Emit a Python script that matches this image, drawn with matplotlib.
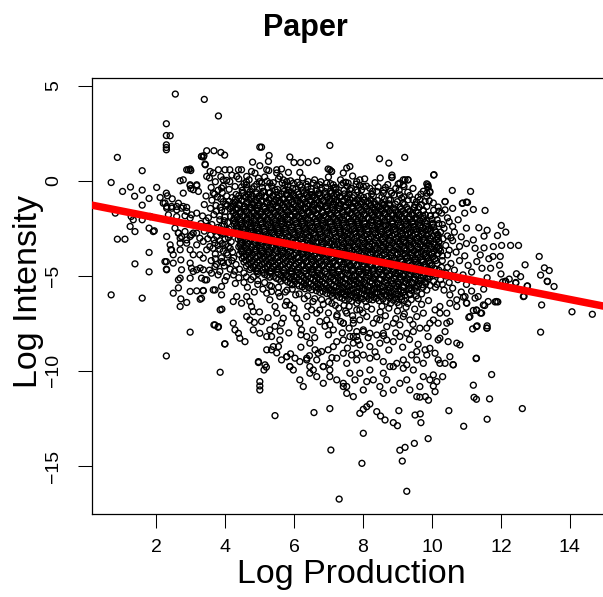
import numpy as np
import matplotlib
matplotlib.use("Agg")
import matplotlib.pyplot as plt

plt.rcParams['font.family'] = ['Liberation Sans', 'DejaVu Sans']

# ---- data ----
title = "Paper"
x_label = "Log Production"
y_label = "Log Intensity"
x_ticks = [2, 4, 6, 8, 10, 12, 14]
y_ticks = [-15, -10, -5, 0, 5]

# fitted line (abline of the regression)
fit_intercept = -1.23
fit_slope = -0.358

# isolated points around the cloud
sparse_pts = [
    (2.56, 4.56), (3.40, 4.28), (3.81, 3.41), (2.30, 3.00), (2.30, 2.38), (2.41, 2.37),
    (2.30, 1.89), (2.30, 1.75), (2.30, 1.63), (0.88, 1.23), (1.60, 0.53), (0.70, -0.09),
    (1.03, -0.56), (1.26, -0.33), (1.38, -0.81), (1.60, -0.49), (1.80, -0.93), (2.02, -0.35),
    (1.60, -1.28), (0.82, -1.70), (1.28, -1.88), (1.34, -2.05), (1.60, -2.05), (1.83, -1.88),
    (1.25, -2.40), (1.39, -2.67), (1.80, -2.49), (1.95, -2.63), (0.88, -3.07), (1.10, -3.07),
    (1.80, -3.77), (1.39, -4.37), (1.80, -4.79), (0.70, -6.00), (1.60, -6.17), (2.30, -9.21),
    (2.99, -7.96), (3.47, 1.58), (3.68, 1.58), (3.88, 1.49), (3.99, 1.35), (3.32, 1.28),
    (3.37, 1.25), (2.89, 0.58), (2.99, 0.62), (3.01, 0.54), (3.43, 0.84), (2.70, 0.00),
    (2.99, -0.26), (3.18, -0.26), (2.79, -0.65), (3.01, -0.41), (2.30, -0.65), (2.33, -0.79),
    (2.47, -0.95), (2.12, -0.88), (2.26, -1.17), (2.31, -1.35), (2.46, -1.44), (2.60, -1.35),
    (2.74, -1.44), (2.89, -1.40), (2.36, -1.79), (2.60, -1.88), (2.84, -1.84), (2.99, -1.96),
    (3.18, -1.70), (2.31, -2.93), (2.65, -2.75), (2.70, -3.02), (2.89, -3.28), (2.99, -2.93),
    (3.08, -2.75), (2.43, -3.63), (2.50, -3.89), (2.70, -3.63), (2.30, -4.25), (2.30, -4.65),
    (2.50, -4.33), (2.72, -4.16), (2.65, -5.21), (2.70, -5.12), (2.99, -5.12), (3.18, -4.68),
    (3.28, -4.59), (2.50, -5.91), (2.99, -5.82), (3.18, -5.79), (3.37, -5.79), (3.71, -5.74),
    (3.90, -5.56), (2.65, -5.63), (2.72, -6.21), (2.70, -6.61), (2.89, -6.40), (3.28, -6.23),
    (3.68, -7.58), (3.80, -7.70), (3.86, -10.07), (3.99, -8.58), (3.91, -6.75), (5.45, -12.35),
    (5.01, -10.56), (5.01, -10.79), (5.01, -11.00), (4.97, -9.56), (5.13, -9.95), (5.20, -9.80),
    (7.07, -14.16), (7.31, -16.74), (6.58, -12.19), (7.04, -11.98), (8.01, -13.28), (7.97, -14.86),
    (9.27, -16.33), (9.14, -14.74), (9.07, -14.17), (9.22, -14.02), (9.49, -13.81), (9.89, -13.56),
    (8.88, -12.72), (9.00, -12.88), (9.68, -12.72), (9.51, -12.32), (9.66, -12.26), (8.64, -12.58),
    (8.51, -12.37), (8.40, -12.14), (8.01, -12.02), (8.11, -11.88), (8.20, -11.74), (9.04, -12.09),
    (10.49, -12.09), (10.92, -12.91), (11.60, -12.54), (12.62, -11.98), (11.67, -11.47),
    (11.29, -11.49), (11.22, -11.39), (11.20, -10.75), (11.73, -10.19), (11.28, -9.35),
    (10.61, -9.67), (10.31, -10.30), (10.14, -10.56), (10.04, -10.79), (10.09, -11.09),
    (9.90, -11.54), (9.81, -11.35), (9.65, -11.38), (13.15, -7.96), (14.06, -6.89), (14.65, -7.02),
    (13.18, -6.53), (12.67, -6.07), (13.54, -5.56), (13.35, -5.30), (12.76, -5.54), (12.43, -5.38),
    (12.14, -5.30), (11.91, -6.37), (11.83, -6.37), (11.53, -6.56), (11.60, -7.63), (11.60, -7.75),
    (11.31, -7.63), (11.18, -7.79), (11.07, -7.18), (11.20, -6.82), (11.30, -6.82), (11.41, -6.96),
    (11.00, -6.42), (10.91, -6.12), (8.48, 1.16), (8.75, 0.93), (9.21, 1.23), (8.84, 0.19),
    (8.84, 0.30), (9.17, 0.05), (9.30, 0.05), (10.05, 0.30), (9.02, -0.17), (9.17, -0.21),
    (9.88, -0.21), (9.88, -0.35), (9.94, -0.61), (10.59, -0.51), (11.12, -0.56), (10.88, -1.19),
    (11.03, -1.14), (11.20, -1.51), (11.54, -1.56), (10.38, -1.10), (10.76, -2.05), (11.00, -2.49),
    (11.36, -2.47), (12.01, -2.35), (12.14, -2.70), (11.90, -2.88), (11.51, -2.91), (11.20, -3.11),
    (11.51, -3.53), (11.78, -3.46), (12.02, -3.40), (12.28, -3.40), (12.51, -3.40), (11.77, -3.98),
    (11.98, -3.98), (11.96, -4.44), (13.11, -3.98), (12.70, -4.42), (13.26, -4.58), (13.40, -4.72),
    (13.15, -4.96), (13.34, -5.28), (12.45, -4.89), (12.57, -5.04), (12.43, -5.35), (12.05, -5.32),
    (12.13, -5.28), (12.24, -5.17), (12.77, -5.53), (12.65, -6.09), (7.04, 1.86), (5.01, 1.77),
    (5.06, 1.77), (3.32, 1.28), (3.39, 1.32), (5.28, 1.33), (5.88, 1.25), (6.00, 0.96),
    (6.19, 0.96), (6.41, 0.96), (6.66, 1.05), (4.80, 0.98), (5.01, 0.79), (5.26, 1.02),
    (3.42, 0.88), (2.94, 0.58), (3.57, 0.49), (3.81, 0.58), (4.00, 0.58), (4.14, 0.58),
    (4.39, 0.58), (4.48, 0.58), (4.77, 0.49), (4.87, 0.40), (5.21, 0.58), (5.27, 0.54),
    (5.50, 0.58), (5.64, 0.62), (5.84, 0.44), (6.17, 0.44), (6.99, 0.62), (7.09, 0.49),
    (3.47, 0.23), (3.66, 0.41), (3.95, 0.05), (4.14, -0.04), (4.34, 0.23), (4.63, 0.23),
    (4.97, 0.14), (2.79, 0.05), (2.99, -0.21), (3.18, -0.21), (3.08, -0.47), (3.23, -0.56),
    (3.66, -0.65), (3.90, -0.38), (4.29, -0.30), (4.63, -0.21), (5.50, 0.41), (5.59, 0.23),
    (5.69, 0.05), (5.74, -0.21), (5.79, -0.04), (5.98, -0.12), (6.17, -0.21), (6.41, -0.04),
    (6.56, -0.12), (6.75, -0.21), (6.95, -0.12), (7.14, -0.21), (5.30, -0.12), (5.06, -0.12),
    (8.84, 0.17), (9.07, -0.12), (9.22, 0.05), (9.31, 0.05), (9.19, -0.30), (10.06, 0.32),
    (9.85, -0.16), (9.89, -0.30), (9.94, -0.56), (9.85, -0.65), (10.38, -1.09), (10.89, -1.17),
    (11.00, -1.12), (7.04, 0.58), (7.09, 0.49), (7.14, -0.38), (7.43, 0.41), (7.53, 0.67),
    (7.62, 0.75), (7.43, -0.12), (7.57, -0.12), (7.82, -0.04), (7.91, 0.05), (8.01, -0.30),
    (7.62, -0.47), (7.82, -0.47), (8.40, -0.56), (8.59, -0.65), (8.83, -0.65), (9.07, -0.74),
    (9.12, -0.91), (9.31, -1.00), (9.51, -1.26), (9.65, -1.00), (9.80, -1.09), (9.85, -0.82),
    (10.04, -1.17), (10.18, -1.38), (10.38, -1.53), (10.28, -1.70),
    # lower part of the cloud
    (3.47, -5.21), (3.37, -5.77), (3.32, -6.18), (3.66, -5.74), (3.90, -6.00), (3.86, -6.79),
    (3.71, -7.58), (3.81, -7.67), (4.00, -8.58), (4.24, -7.49), (4.29, -7.84), (4.39, -8.02),
    (4.43, -8.28), (4.58, -8.46), (4.24, -6.35), (4.34, -6.09), (4.48, -6.44), (4.63, -6.09),
    (4.72, -6.35), (4.77, -6.61), (4.82, -6.88), (4.63, -7.14), (4.72, -7.32), (4.82, -7.84),
    (5.06, -7.40), (5.01, -8.02), (5.21, -8.19), (5.30, -7.84), (5.35, -8.19), (5.40, -8.72),
    (5.21, -8.89), (5.35, -8.89), (5.55, -8.72), (5.59, -8.37), (5.64, -7.49), (5.69, -7.23),
    (5.50, -6.96), (5.45, -6.61), (5.30, -6.26), (5.21, -5.91), (5.35, -5.82), (5.59, -6.09),
    (5.79, -6.35), (5.88, -6.53), (5.98, -6.96), (6.08, -7.23), (6.17, -7.49), (6.22, -7.84),
    (6.37, -8.19), (6.46, -8.54), (6.61, -8.89), (6.70, -9.07), (6.80, -8.98), (6.99, -8.89),
    (7.14, -8.72), (7.24, -8.46), (7.43, -8.37), (7.62, -8.19), (7.72, -8.54), (7.82, -7.93),
    (6.37, -7.14), (6.51, -6.79), (6.66, -6.96), (6.75, -7.40), (6.95, -7.32), (7.04, -7.58),
    (7.14, -7.84), (7.24, -7.14), (7.43, -7.49), (7.53, -6.96), (7.72, -7.32), (7.82, -6.79),
    (4.97, -9.51), (5.16, -9.68), (5.64, -9.42), (5.79, -9.25), (5.88, -9.77), (6.03, -9.33),
    (6.17, -9.51), (6.37, -9.33), (6.46, -9.77), (6.66, -9.42), (6.85, -9.77), (7.04, -9.60),
    (7.24, -9.33), (7.43, -9.07), (7.53, -9.60), (7.67, -9.16),
    (10.52, -6.00), (10.72, -6.26), (10.52, -6.44), (10.23, -6.61), (10.09, -6.79), (10.23, -6.96),
    (10.43, -6.96), (10.72, -6.61), (10.96, -6.09), (11.01, -6.44), (11.25, -6.17), (11.34, -6.09),
    (11.49, -6.53), (11.63, -6.35), (11.87, -6.35), (11.10, -7.14), (11.29, -6.79), (11.44, -6.96),
    (11.29, -7.67), (11.59, -7.75), (10.04, -7.32), (10.18, -7.49), (10.43, -7.49), (10.52, -7.40),
    (10.38, -7.93), (9.94, -7.49), (9.85, -7.75), (9.89, -8.19), (10.23, -8.28), (10.18, -8.37),
    (10.47, -8.46), (10.72, -8.54), (10.81, -8.63), (9.94, -8.81), (9.80, -8.89), (9.56, -8.98),
    (9.41, -9.16), (9.85, -9.16), (10.09, -9.07), (10.18, -9.42), (10.38, -9.60), (10.62, -9.68),
    (10.52, -9.25), (9.56, -9.42), (9.17, -9.42), (9.27, -9.68), (8.98, -9.60), (8.78, -9.77),
    (8.59, -9.51), (8.40, -9.25), (8.20, -9.33), (8.01, -9.16), (7.82, -9.07), (7.91, -8.63),
    (8.20, -8.72), (8.49, -8.54), (8.69, -8.37), (8.88, -8.46), (9.07, -8.19), (9.27, -8.02),
    (9.46, -7.93), (9.65, -7.75), (8.59, -8.02), (8.40, -8.11), (8.20, -8.02), (8.01, -7.93),
    (7.82, -8.19), (7.72, -7.49), (7.91, -7.32), (8.11, -7.14), (8.30, -7.49), (8.49, -7.32),
    (8.69, -7.67), (8.88, -7.49), (9.07, -7.58), (9.17, -7.14), (9.36, -7.32), (9.56, -7.14),
    (9.75, -6.96), (7.91, -6.79), (8.11, -6.61), (7.82, -6.44), (8.01, -7.84), (11.29, -9.33),
    (7.43, -7.49), (7.72, -8.19), (7.82, -9.42), (7.77, -10.47), (7.53, -10.82), (7.72, -11.35),
    (8.01, -11.00), (8.11, -10.56), (8.30, -10.47), (8.49, -10.82), (8.59, -11.18), (8.69, -10.47),
    (8.88, -11.00), (9.07, -10.65), (9.27, -10.47), (9.36, -11.00), (9.56, -11.35), (9.65, -10.82),
    (9.75, -10.30), (9.94, -10.47), (10.04, -10.21), (10.23, -9.60), (9.75, -9.60), (9.46, -9.95),
    (9.17, -9.86), (8.88, -9.77), (8.59, -10.12), (8.20, -9.95), (7.91, -10.12), (7.62, -10.12),
    (7.43, -10.65), (7.91, -12.23), (6.27, -10.82), (6.17, -10.47), (5.98, -9.95), (5.88, -9.77),
    (6.46, -10.12), (6.66, -10.30), (6.85, -10.65), (7.04, -10.30), (7.24, -10.47), (7.43, -10.82),
    (7.53, -11.18), (6.37, -9.42), (6.56, -9.95), (6.85, -9.77), (7.04, -9.95), (5.79, -9.25),
    # left side of the cloud
    (1.83, -1.88), (1.92, -2.67), (2.21, -1.18), (2.31, -1.44), (2.45, -1.35), (2.60, -1.53),
    (2.65, -1.18), (2.79, -1.35), (2.89, -1.61), (3.03, -1.79), (2.55, -2.49), (2.65, -2.75),
    (2.74, -2.93), (2.84, -2.67), (2.89, -3.11), (2.70, -3.28), (3.03, -2.84), (3.18, -2.75),
    (3.27, -3.02), (3.37, -3.19), (3.18, -3.37), (2.99, -3.63), (3.08, -3.89), (3.27, -3.89),
    (3.37, -4.07), (3.47, -3.63), (3.56, -3.46), (3.71, -3.28), (3.76, -2.93), (3.85, -2.67),
    (3.66, -2.58), (3.52, -2.40), (2.41, -3.37), (2.45, -3.63), (2.26, -4.25), (2.31, -4.68),
    (2.74, -4.68), (2.99, -4.33), (3.03, -4.60), (3.08, -4.77), (3.37, -4.68), (3.32, -5.12),
    (3.42, -5.21), (3.61, -4.86), (3.71, -4.51), (3.85, -4.77), (3.90, -4.25), (4.05, -5.04),
]

# points in the busy band around the dark core
halo_pts = [
    (3.55, 0.15), (3.72, -0.05), (3.88, 0.22), (4.05, 0.02), (4.20, 0.30), (3.60, -0.35),
    (3.80, -0.50), (3.95, -0.28), (4.12, -0.45), (3.45, -0.80), (3.62, -1.02), (3.78, -0.85),
    (3.95, -1.10), (3.40, -1.25), (3.58, -1.45), (3.74, -1.30), (3.90, -1.55), (3.35, -1.85),
    (3.52, -1.95), (3.68, -1.78), (3.85, -2.05), (4.00, -1.90), (3.30, -2.25), (3.45, -2.10),
    (3.62, -2.30), (3.80, -2.45), (3.98, -2.30), (4.12, -2.55), (3.40, -2.65), (3.58, -2.85),
    (3.95, -2.80), (4.10, -3.00), (3.50, -3.05), (3.85, -3.15), (4.02, -3.35), (3.65, -3.55),
    (3.80, -3.40), (3.95, -3.70), (4.15, -3.55), (3.72, -3.85), (3.90, -4.05), (4.08, -3.90),
    (4.20, -4.20), (3.60, -4.20), (3.75, -4.40), (3.98, -4.48), (4.15, -4.65), (3.55, -4.70),
    (3.80, -4.95), (4.00, -5.25), (4.25, -4.95), (4.40, -5.10), (4.30, -5.40), (4.55, -5.35),
    (4.75, -5.20), (4.65, -5.60), (4.95, -5.45), (5.10, -5.70), (4.85, -5.85), (5.35, -5.55),
    (5.55, -5.90), (5.80, -5.75), (6.05, -6.00), (6.30, -6.20), (6.55, -6.35), (6.85, -6.50),
    (7.10, -6.45), (7.30, -6.70), (7.60, -6.60),
    (4.40, 0.10), (4.55, -0.15), (4.70, 0.05), (4.85, -0.30), (5.00, -0.05), (5.15, 0.20),
    (5.25, -0.35), (5.40, -0.10), (5.55, 0.10), (5.70, -0.40), (5.90, 0.00), (6.05, -0.45),
    (6.25, 0.15), (6.40, -0.30), (6.60, 0.05), (6.80, -0.40), (7.00, 0.20), (7.20, -0.35),
    (7.35, 0.05), (7.55, -0.30), (7.70, 0.25), (7.90, -0.25), (8.05, 0.10), (8.20, -0.40),
    (8.35, -0.10), (8.50, 0.15), (8.65, -0.35), (8.80, -0.55), (8.95, -0.40), (9.30, -0.60),
    (9.45, -0.40), (9.60, -0.85), (9.75, -0.55), (9.45, -1.00), (9.70, -1.25), (4.50, -0.50),
    (4.65, -0.42), (5.10, -0.55), (5.45, -0.48), (5.85, -0.50), (6.25, -0.52), (6.65, -0.48),
    (7.05, -0.55), (7.45, -0.50), (7.85, -0.58), (8.25, -0.70), (8.55, -0.85), (8.75, -1.00),
    (9.00, -1.10), (9.20, -1.25), (8.60, -1.25), (9.50, -1.40), (9.75, -1.55), (9.95, -1.85),
    (10.15, -2.05), (10.30, -2.30), (10.45, -1.95), (10.60, -2.40), (10.25, -2.70), (10.45, -2.90),
    (10.65, -2.70), (10.85, -2.95), (10.20, -3.20), (10.40, -3.40), (10.60, -3.15), (10.80, -3.45),
    (11.00, -3.30), (10.25, -3.70), (10.45, -3.90), (10.70, -3.75), (10.95, -3.95), (10.30, -4.20),
    (10.55, -4.35), (10.80, -4.20), (11.05, -4.45), (11.30, -4.25), (10.20, -4.70), (10.40, -4.85),
    (10.65, -4.70), (10.90, -4.95), (11.15, -4.80), (11.45, -4.60), (10.25, -5.20), (10.50, -5.35),
    (10.75, -5.20), (11.00, -5.45), (11.25, -5.30), (11.60, -5.10), (10.10, -5.60), (10.35, -5.75),
    (10.60, -5.65), (10.85, -5.85), (11.15, -5.80), (11.50, -5.70), (11.80, -5.45), (12.00, -4.90),
    (11.70, -4.60), (11.40, -3.90), (11.65, -4.10), (11.25, -3.55), (11.60, -2.60), (10.95, -1.70),
    (10.60, -1.45), (10.20, -1.60),
    (5.75, -6.55), (6.00, -6.70), (6.40, -6.60), (6.75, -6.80), (7.00, -6.95), (7.25, -7.05),
    (7.50, -6.85), (7.70, -7.10), (8.00, -6.95), (8.25, -6.75), (8.50, -6.90), (8.75, -6.70),
    (9.00, -6.85), (9.25, -6.65), (9.50, -6.75), (9.70, -6.50), (9.90, -6.30), (9.60, -6.20),
    (9.30, -6.45), (9.05, -6.55), (8.80, -6.45), (8.55, -6.60), (8.40, -7.25), (8.65, -7.10),
    (8.95, -7.25), (9.20, -7.00), (9.45, -7.55), (7.60, -7.75), (7.35, -7.40), (6.90, -7.65),
    (6.55, -7.85), (6.20, -8.10), (5.85, -8.00), (5.60, -7.90), (5.25, -7.20), (5.00, -6.90),
    (4.85, -7.45), (5.45, -7.65), (6.60, -8.25), (7.00, -8.10), (7.40, -8.00), (7.85, -8.40),
    (8.15, -8.25), (8.60, -8.15), (8.95, -8.00), (9.35, -8.35), (9.60, -8.60), (9.15, -8.75),
    (8.75, -8.90), (8.35, -9.00), (7.55, -8.80), (7.10, -9.30), (6.45, -9.20), (6.20, -8.75),
    (5.90, -9.10), (5.50, -9.05),
]

# points along the edge of the dark core
rim_pts = [
    (4.48, -0.32), (4.62, -0.05), (4.78, -0.42), (4.92, -0.18), (5.08, -0.35), (5.22, -0.02),
    (5.36, -0.28), (5.52, -0.45), (5.66, -0.12), (5.82, -0.30), (5.96, -0.40), (6.10, -0.08),
    (6.22, -0.33), (6.36, -0.18), (6.50, -0.42), (6.66, -0.25), (6.78, -0.05), (6.92, -0.35),
    (7.06, -0.15), (7.22, -0.45), (7.38, -0.22), (7.50, -0.08), (7.66, -0.40), (7.80, -0.18),
    (7.96, -0.48), (8.10, -0.28), (8.28, -0.55), (8.44, -0.32), (8.60, -0.50), (8.72, -0.20),
    (8.90, -0.75), (9.05, -0.50), (9.18, -0.85), (9.35, -0.78), (9.55, -1.10), (9.68, -0.70),
    (9.85, -1.35), (9.92, -1.05), (10.05, -1.55), (10.10, -1.80),
    (3.92, -0.62), (4.05, -0.80), (3.88, -0.95), (4.02, -1.22), (3.86, -1.40), (4.00, -1.62),
    (3.84, -1.85), (3.98, -2.10), (4.08, -2.20), (3.90, -2.38), (4.05, -2.60), (3.88, -2.75),
    (4.15, -2.85), (4.00, -3.05), (4.18, -3.20), (3.92, -3.30), (4.10, -3.45), (4.22, -3.75),
    (4.05, -3.80), (4.25, -4.05), (4.10, -4.30), (4.32, -4.40), (4.42, -4.65), (4.28, -4.75),
    (4.55, -4.85), (4.62, -5.05), (4.82, -5.05), (4.95, -5.25), (5.15, -5.35), (5.30, -5.50),
    (5.55, -5.60), (5.75, -5.85), (5.95, -5.70), (6.15, -5.95), (6.40, -6.05), (6.60, -6.20),
    (6.80, -6.25), (7.00, -6.35), (7.20, -6.55), (7.45, -6.55), (3.70, -0.70), (3.75, -1.60),
    (3.70, -2.60), (3.68, -3.10), (3.85, -3.60), (3.72, -4.10), (3.95, -4.30),
    (10.20, -2.25), (10.35, -2.50), (10.18, -2.85), (10.32, -3.05), (10.22, -3.55), (10.30, -3.95),
    (10.15, -4.35), (10.28, -4.55), (10.12, -4.95), (10.05, -5.30), (9.95, -5.50), (10.15, -5.45),
    (9.85, -5.75), (9.70, -5.95), (9.55, -6.05), (9.40, -6.25), (9.20, -6.30), (9.00, -6.40),
    (10.50, -2.15), (10.55, -3.00), (10.50, -3.65), (10.45, -4.55), (10.40, -5.00), (10.30, -5.45),
]

# the dark core, written row by row (x values, then matching y values)
core_x = [
    4.32, 4.51, 4.68, 4.90, 5.06, 5.27, 5.41, 5.63, 5.80, 5.99, 6.14, 6.36, 6.52, 6.71, 6.90, 7.07, 7.25, 7.46, 7.60,
    4.21, 4.40, 4.59, 4.77, 4.98, 5.15, 5.33, 5.52, 5.71, 5.88, 6.06, 6.25, 6.43, 6.60, 6.80, 6.97, 7.16, 7.34, 7.53, 7.70, 7.88, 8.02,
    4.12, 4.30, 4.49, 4.66, 4.86, 5.04, 5.22, 5.41, 5.58, 5.77, 5.95, 6.13, 6.32, 6.49, 6.68, 6.86, 7.05, 7.22, 7.41, 7.59, 7.77, 7.96, 8.14, 8.33,
    4.06, 4.23, 4.41, 4.58, 4.77, 4.95, 5.13, 5.31, 5.49, 5.67, 5.86, 6.04, 6.22, 6.40, 6.58, 6.77, 6.95, 7.13, 7.31, 7.50, 7.68, 7.86, 8.05, 8.23, 8.41, 8.60, 8.78,
    4.15, 4.33, 4.55, 4.74, 4.93, 5.16, 5.34, 5.53, 5.75, 5.94, 6.13, 6.35, 6.54, 6.72, 6.95, 7.13, 7.33, 7.54, 7.72, 7.93, 8.12, 8.34, 8.52, 8.71, 8.93, 9.11, 9.30,
    4.24, 4.44, 4.63, 4.84, 5.03, 5.25, 5.44, 5.63, 5.85, 6.04, 6.23, 6.45, 6.63, 6.84, 7.03, 7.24, 7.43, 7.63, 7.83, 8.03, 8.24, 8.43, 8.62, 8.83, 9.02, 9.22, 9.42, 9.60,
    4.16, 4.35, 4.54, 4.75, 4.94, 5.14, 5.35, 5.54, 5.73, 5.95, 6.14, 6.33, 6.54, 6.74, 6.93, 7.14, 7.33, 7.55, 7.74, 7.93, 8.14, 8.33, 8.54, 8.73, 8.94, 9.13, 9.34, 9.53, 9.74,
    4.25, 4.45, 4.64, 4.85, 5.04, 5.24, 5.45, 5.64, 5.84, 6.05, 6.24, 6.43, 6.65, 6.84, 7.04, 7.25, 7.44, 7.64, 7.84, 8.04, 8.25, 8.44, 8.63, 8.85, 9.04, 9.24, 9.44, 9.65, 9.85,
    4.27, 4.46, 4.66, 4.86, 5.05, 5.26, 5.46, 5.65, 5.86, 6.06, 6.25, 6.46, 6.66, 6.85, 7.06, 7.26, 7.45, 7.66, 7.86, 8.05, 8.26, 8.46, 8.65, 8.86, 9.06, 9.25, 9.46, 9.66, 9.85, 10.02,
    4.33, 4.53, 4.74, 4.93, 5.13, 5.34, 5.53, 5.73, 5.94, 6.13, 6.33, 6.54, 6.73, 6.93, 7.14, 7.33, 7.53, 7.74, 7.93, 8.13, 8.34, 8.53, 8.73, 8.94, 9.13, 9.33, 9.54, 9.73, 9.93,
    4.36, 4.55, 4.76, 4.95, 5.16, 5.36, 5.55, 5.76, 5.96, 6.15, 6.36, 6.56, 6.75, 6.96, 7.16, 7.35, 7.56, 7.76, 7.95, 8.16, 8.36, 8.55, 8.76, 8.96, 9.15, 9.36, 9.56, 9.75, 9.96, 10.12,
    4.43, 4.64, 4.83, 5.04, 5.24, 5.43, 5.64, 5.84, 6.03, 6.24, 6.44, 6.63, 6.84, 7.04, 7.23, 7.44, 7.64, 7.83, 8.04, 8.24, 8.43, 8.64, 8.84, 9.03, 9.24, 9.44, 9.63, 9.84, 10.03,
    4.38, 4.58, 4.76, 4.98, 5.17, 5.36, 5.58, 5.77, 5.96, 6.18, 6.37, 6.56, 6.78, 6.97, 7.16, 7.38, 7.57, 7.76, 7.98, 8.17, 8.36, 8.58, 8.77, 8.96, 9.18, 9.37, 9.56, 9.78, 9.97, 10.13,
    4.45, 4.66, 4.86, 5.05, 5.26, 5.46, 5.65, 5.86, 6.06, 6.25, 6.46, 6.66, 6.85, 7.06, 7.26, 7.45, 7.66, 7.86, 8.05, 8.26, 8.46, 8.65, 8.86, 9.06, 9.25, 9.46, 9.66, 9.85, 10.05,
    4.40, 4.60, 4.78, 5.00, 5.19, 5.38, 5.60, 5.79, 5.98, 6.20, 6.39, 6.58, 6.80, 6.99, 7.18, 7.40, 7.59, 7.78, 8.00, 8.19, 8.38, 8.60, 8.79, 8.98, 9.20, 9.39, 9.58, 9.80, 9.99, 10.14,
    4.47, 4.68, 4.88, 5.07, 5.28, 5.48, 5.67, 5.88, 6.08, 6.27, 6.48, 6.68, 6.87, 7.08, 7.28, 7.47, 7.68, 7.88, 8.07, 8.28, 8.48, 8.67, 8.88, 9.08, 9.27, 9.48, 9.68, 9.87, 10.06,
    4.42, 4.62, 4.80, 5.02, 5.21, 5.40, 5.62, 5.81, 6.00, 6.22, 6.41, 6.60, 6.82, 7.01, 7.20, 7.42, 7.61, 7.80, 8.02, 8.21, 8.40, 8.62, 8.81, 9.00, 9.22, 9.41, 9.60, 9.82, 10.01,
    4.50, 4.70, 4.90, 5.09, 5.30, 5.50, 5.69, 5.90, 6.10, 6.29, 6.50, 6.70, 6.89, 7.10, 7.30, 7.49, 7.70, 7.90, 8.09, 8.30, 8.50, 8.69, 8.90, 9.10, 9.29, 9.50, 9.70, 9.89, 10.08,
    4.55, 4.74, 4.94, 5.14, 5.33, 5.54, 5.74, 5.93, 6.14, 6.34, 6.53, 6.74, 6.94, 7.13, 7.34, 7.54, 7.73, 7.94, 8.14, 8.33, 8.54, 8.74, 8.93, 9.14, 9.34, 9.53, 9.74, 9.94,
    4.62, 4.82, 5.01, 5.22, 5.42, 5.61, 5.82, 6.02, 6.21, 6.42, 6.62, 6.81, 7.02, 7.22, 7.41, 7.62, 7.82, 8.01, 8.22, 8.42, 8.61, 8.82, 9.02, 9.21, 9.42, 9.62, 9.81, 10.00,
    4.72, 4.91, 5.11, 5.31, 5.50, 5.71, 5.91, 6.10, 6.31, 6.51, 6.70, 6.91, 7.11, 7.30, 7.51, 7.71, 7.90, 8.11, 8.31, 8.50, 8.71, 8.91, 9.10, 9.31, 9.51, 9.70, 9.91,
    4.95, 5.15, 5.34, 5.55, 5.75, 5.94, 6.15, 6.35, 6.54, 6.75, 6.95, 7.14, 7.35, 7.55, 7.74, 7.95, 8.15, 8.34, 8.55, 8.75, 8.94, 9.15, 9.35, 9.54, 9.75, 9.95,
    5.30, 5.49, 5.69, 5.89, 6.08, 6.29, 6.49, 6.68, 6.89, 7.09, 7.28, 7.49, 7.69, 7.88, 8.09, 8.29, 8.48, 8.69, 8.89, 9.08, 9.29, 9.49, 9.68, 9.88,
    5.62, 5.82, 6.01, 6.22, 6.42, 6.61, 6.82, 7.02, 7.21, 7.42, 7.62, 7.81, 8.02, 8.22, 8.41, 8.62, 8.82, 9.01, 9.22, 9.42, 9.61, 9.80,
    5.95, 6.15, 6.34, 6.55, 6.75, 6.94, 7.15, 7.35, 7.54, 7.75, 7.95, 8.14, 8.35, 8.55, 8.74, 8.95, 9.15, 9.34, 9.55, 9.72,
    6.32, 6.52, 6.71, 6.92, 7.12, 7.31, 7.52, 7.72, 7.91, 8.12, 8.32, 8.51, 8.72, 8.92, 9.11, 9.32, 9.52,
    6.75, 6.95, 7.14, 7.35, 7.55, 7.74, 7.95, 8.15, 8.34, 8.55, 8.75, 8.94, 9.15, 9.35,
    7.12, 7.32, 7.51, 7.72, 7.92, 8.11, 8.32, 8.52, 8.71, 8.92, 9.12,
    7.48, 7.68, 7.87, 8.08, 8.28, 8.47, 8.68, 8.88,
]
core_y = [
    -0.72, -0.66, -0.75, -0.69, -0.73, -0.65, -0.77, -0.70, -0.68, -0.74, -0.71, -0.66, -0.76, -0.70, -0.73, -0.67, -0.74, -0.69, -0.72,
    -0.88, -0.93, -0.86, -0.95, -0.90, -0.84, -0.92, -0.89, -0.96, -0.87, -0.91, -0.94, -0.85, -0.90, -0.93, -0.88, -0.95, -0.86, -0.91, -0.89, -0.94, -0.87,
    -1.08, -1.13, -1.05, -1.11, -1.15, -1.07, -1.12, -1.09, -1.04, -1.14, -1.10, -1.06, -1.13, -1.08, -1.16, -1.10, -1.05, -1.12, -1.09, -1.14, -1.06, -1.11, -1.08, -1.13,
    -1.27, -1.33, -1.29, -1.35, -1.26, -1.31, -1.34, -1.28, -1.32, -1.25, -1.30, -1.36, -1.29, -1.33, -1.27, -1.31, -1.35, -1.28, -1.30, -1.26, -1.34, -1.29, -1.32, -1.27, -1.35, -1.30, -1.28,
    -1.47, -1.53, -1.50, -1.44, -1.55, -1.49, -1.52, -1.46, -1.54, -1.48, -1.51, -1.45, -1.56, -1.50, -1.47, -1.53, -1.49, -1.55, -1.46, -1.52, -1.48, -1.54, -1.50, -1.45, -1.53, -1.49, -1.51,
    -1.68, -1.73, -1.66, -1.71, -1.75, -1.67, -1.72, -1.69, -1.64, -1.74, -1.70, -1.66, -1.73, -1.68, -1.76, -1.70, -1.65, -1.72, -1.69, -1.74, -1.66, -1.71, -1.68, -1.73, -1.65, -1.70, -1.74, -1.67,
    -1.87, -1.93, -1.89, -1.95, -1.86, -1.91, -1.94, -1.88, -1.92, -1.85, -1.90, -1.96, -1.89, -1.93, -1.87, -1.91, -1.95, -1.88, -1.90, -1.86, -1.94, -1.89, -1.92, -1.87, -1.95, -1.90, -1.88, -1.93, -1.86,
    -2.08, -2.13, -2.06, -2.11, -2.15, -2.07, -2.12, -2.09, -2.04, -2.14, -2.10, -2.06, -2.13, -2.08, -2.16, -2.10, -2.05, -2.12, -2.09, -2.14, -2.06, -2.11, -2.08, -2.13, -2.05, -2.10, -2.14, -2.07, -2.11,
    -2.27, -2.33, -2.29, -2.35, -2.26, -2.31, -2.34, -2.28, -2.32, -2.25, -2.30, -2.36, -2.29, -2.33, -2.27, -2.31, -2.35, -2.28, -2.30, -2.26, -2.34, -2.29, -2.32, -2.27, -2.35, -2.30, -2.28, -2.33, -2.26, -2.31,
    -2.48, -2.53, -2.46, -2.51, -2.55, -2.47, -2.52, -2.49, -2.44, -2.54, -2.50, -2.46, -2.53, -2.48, -2.56, -2.50, -2.45, -2.52, -2.49, -2.54, -2.46, -2.51, -2.48, -2.53, -2.45, -2.50, -2.54, -2.47, -2.51,
    -2.67, -2.73, -2.69, -2.75, -2.66, -2.71, -2.74, -2.68, -2.72, -2.65, -2.70, -2.76, -2.69, -2.73, -2.67, -2.71, -2.75, -2.68, -2.70, -2.66, -2.74, -2.69, -2.72, -2.67, -2.75, -2.70, -2.68, -2.73, -2.66, -2.71,
    -2.88, -2.93, -2.86, -2.91, -2.95, -2.87, -2.92, -2.89, -2.84, -2.94, -2.90, -2.86, -2.93, -2.88, -2.96, -2.90, -2.85, -2.92, -2.89, -2.94, -2.86, -2.91, -2.88, -2.93, -2.85, -2.90, -2.94, -2.87, -2.91,
    -3.07, -3.13, -3.09, -3.15, -3.06, -3.11, -3.14, -3.08, -3.12, -3.05, -3.10, -3.16, -3.09, -3.13, -3.07, -3.11, -3.15, -3.08, -3.10, -3.06, -3.14, -3.09, -3.12, -3.07, -3.15, -3.10, -3.08, -3.13, -3.06, -3.11,
    -3.28, -3.33, -3.26, -3.31, -3.35, -3.27, -3.32, -3.29, -3.24, -3.34, -3.30, -3.26, -3.33, -3.28, -3.36, -3.30, -3.25, -3.32, -3.29, -3.34, -3.26, -3.31, -3.28, -3.33, -3.25, -3.30, -3.34, -3.27, -3.31,
    -3.47, -3.53, -3.49, -3.55, -3.46, -3.51, -3.54, -3.48, -3.52, -3.45, -3.50, -3.56, -3.49, -3.53, -3.47, -3.51, -3.55, -3.48, -3.50, -3.46, -3.54, -3.49, -3.52, -3.47, -3.55, -3.50, -3.48, -3.53, -3.46, -3.51,
    -3.68, -3.73, -3.66, -3.71, -3.75, -3.67, -3.72, -3.69, -3.64, -3.74, -3.70, -3.66, -3.73, -3.68, -3.76, -3.70, -3.65, -3.72, -3.69, -3.74, -3.66, -3.71, -3.68, -3.73, -3.65, -3.70, -3.74, -3.67, -3.71,
    -3.87, -3.93, -3.89, -3.95, -3.86, -3.91, -3.94, -3.88, -3.92, -3.85, -3.90, -3.96, -3.89, -3.93, -3.87, -3.91, -3.95, -3.88, -3.90, -3.86, -3.94, -3.89, -3.92, -3.87, -3.95, -3.90, -3.88, -3.93, -3.86,
    -4.08, -4.13, -4.06, -4.11, -4.15, -4.07, -4.12, -4.09, -4.04, -4.14, -4.10, -4.06, -4.13, -4.08, -4.16, -4.10, -4.05, -4.12, -4.09, -4.14, -4.06, -4.11, -4.08, -4.13, -4.05, -4.10, -4.14, -4.07, -4.11,
    -4.27, -4.33, -4.29, -4.35, -4.26, -4.31, -4.34, -4.28, -4.32, -4.25, -4.30, -4.36, -4.29, -4.33, -4.27, -4.31, -4.35, -4.28, -4.30, -4.26, -4.34, -4.29, -4.32, -4.27, -4.35, -4.30, -4.28, -4.33,
    -4.48, -4.53, -4.46, -4.51, -4.55, -4.47, -4.52, -4.49, -4.44, -4.54, -4.50, -4.46, -4.53, -4.48, -4.56, -4.50, -4.45, -4.52, -4.49, -4.54, -4.46, -4.51, -4.48, -4.53, -4.45, -4.50, -4.54, -4.47,
    -4.67, -4.73, -4.69, -4.75, -4.66, -4.71, -4.74, -4.68, -4.72, -4.65, -4.70, -4.76, -4.69, -4.73, -4.67, -4.71, -4.75, -4.68, -4.70, -4.66, -4.74, -4.69, -4.72, -4.67, -4.75, -4.70, -4.68,
    -4.88, -4.93, -4.86, -4.91, -4.95, -4.87, -4.92, -4.89, -4.84, -4.94, -4.90, -4.86, -4.93, -4.88, -4.96, -4.90, -4.85, -4.92, -4.89, -4.94, -4.86, -4.91, -4.88, -4.93, -4.85, -4.90,
    -5.07, -5.13, -5.09, -5.15, -5.06, -5.11, -5.14, -5.08, -5.12, -5.05, -5.10, -5.16, -5.09, -5.13, -5.07, -5.11, -5.15, -5.08, -5.10, -5.06, -5.14, -5.09, -5.12, -5.07,
    -5.28, -5.33, -5.26, -5.31, -5.35, -5.27, -5.32, -5.29, -5.24, -5.34, -5.30, -5.26, -5.33, -5.28, -5.36, -5.30, -5.25, -5.32, -5.29, -5.34, -5.26, -5.31,
    -5.47, -5.53, -5.49, -5.55, -5.46, -5.51, -5.54, -5.48, -5.52, -5.45, -5.50, -5.56, -5.49, -5.53, -5.47, -5.51, -5.55, -5.48, -5.50, -5.46,
    -5.68, -5.73, -5.66, -5.71, -5.75, -5.67, -5.72, -5.69, -5.64, -5.74, -5.70, -5.66, -5.73, -5.68, -5.76, -5.70, -5.65,
    -5.87, -5.93, -5.89, -5.95, -5.86, -5.91, -5.94, -5.88, -5.92, -5.85, -5.90, -5.96, -5.89, -5.93,
    -6.08, -6.13, -6.06, -6.11, -6.15, -6.07, -6.12, -6.09, -6.04, -6.14, -6.10,
    -6.27, -6.33, -6.29, -6.35, -6.26, -6.31, -6.34, -6.28,
]

# second layer of the core, between the rows above
core2_x = [
    4.72, 4.91, 5.12, 5.31, 5.50, 5.71, 5.92, 6.11, 6.30, 6.51, 6.72, 6.91, 7.10, 7.29,
    4.40, 4.60, 4.79, 4.98, 5.19, 5.38, 5.57, 5.78, 5.97, 6.16, 6.37, 6.56, 6.75, 6.96, 7.15, 7.34, 7.55, 7.74, 7.93, 8.14, 8.30,
    4.30, 4.49, 4.68, 4.89, 5.08, 5.27, 5.48, 5.67, 5.86, 6.07, 6.26, 6.45, 6.66, 6.85, 7.04, 7.25, 7.44, 7.63, 7.84, 8.03, 8.22, 8.43, 8.62, 8.80,
    4.23, 4.42, 4.62, 4.81, 5.00, 5.21, 5.40, 5.59, 5.80, 5.99, 6.18, 6.39, 6.58, 6.77, 6.98, 7.17, 7.36, 7.57, 7.76, 7.95, 8.16, 8.35, 8.54, 8.75, 8.94, 9.15,
    4.18, 4.36, 4.55, 4.76, 4.95, 5.14, 5.35, 5.54, 5.73, 5.94, 6.13, 6.32, 6.53, 6.72, 6.91, 7.12, 7.31, 7.50, 7.71, 7.90, 8.09, 8.30, 8.49, 8.68, 8.89, 9.08, 9.27, 9.48, 9.62,
    4.23, 4.44, 4.63, 4.82, 5.03, 5.22, 5.41, 5.62, 5.81, 6.00, 6.21, 6.40, 6.59, 6.80, 6.99, 7.18, 7.39, 7.58, 7.77, 7.98, 8.17, 8.36, 8.57, 8.76, 8.95, 9.16, 9.35, 9.54, 9.75,
    4.31, 4.50, 4.71, 4.90, 5.09, 5.30, 5.49, 5.68, 5.89, 6.08, 6.27, 6.48, 6.67, 6.86, 7.07, 7.26, 7.45, 7.66, 7.85, 8.04, 8.25, 8.44, 8.63, 8.84, 9.03, 9.22, 9.43, 9.62, 9.81, 9.96,
    4.26, 4.45, 4.64, 4.85, 5.04, 5.23, 5.44, 5.63, 5.82, 6.03, 6.22, 6.41, 6.62, 6.81, 7.00, 7.21, 7.40, 7.59, 7.80, 7.99, 8.18, 8.39, 8.58, 8.77, 8.98, 9.17, 9.36, 9.57, 9.76, 10.00,
    4.30, 4.49, 4.70, 4.89, 5.08, 5.29, 5.48, 5.67, 5.88, 6.07, 6.26, 6.47, 6.66, 6.85, 7.06, 7.25, 7.44, 7.65, 7.84, 8.03, 8.24, 8.43, 8.62, 8.83, 9.02, 9.21, 9.42, 9.61, 9.80, 10.03,
    4.34, 4.53, 4.74, 4.93, 5.12, 5.33, 5.52, 5.71, 5.92, 6.11, 6.30, 6.51, 6.70, 6.89, 7.10, 7.29, 7.48, 7.69, 7.88, 8.07, 8.28, 8.47, 8.66, 8.87, 9.06, 9.25, 9.46, 9.65, 9.84, 10.05,
    4.37, 4.56, 4.75, 4.96, 5.15, 5.34, 5.55, 5.74, 5.93, 6.14, 6.33, 6.52, 6.73, 6.92, 7.11, 7.32, 7.51, 7.70, 7.91, 8.10, 8.29, 8.50, 8.69, 8.88, 9.09, 9.28, 9.47, 9.68, 9.87, 10.10,
    4.40, 4.59, 4.80, 4.99, 5.18, 5.39, 5.58, 5.77, 5.98, 6.17, 6.36, 6.57, 6.76, 6.95, 7.16, 7.35, 7.54, 7.75, 7.94, 8.13, 8.34, 8.53, 8.72, 8.93, 9.12, 9.31, 9.52, 9.71, 9.90, 10.15,
    4.44, 4.63, 4.84, 5.03, 5.22, 5.43, 5.62, 5.81, 6.02, 6.21, 6.40, 6.61, 6.80, 6.99, 7.20, 7.39, 7.58, 7.79, 7.98, 8.17, 8.38, 8.57, 8.76, 8.97, 9.16, 9.35, 9.56, 9.75, 9.94, 10.18,
    4.46, 4.65, 4.86, 5.05, 5.24, 5.45, 5.64, 5.83, 6.04, 6.23, 6.42, 6.63, 6.82, 7.01, 7.22, 7.41, 7.60, 7.81, 8.00, 8.19, 8.40, 8.59, 8.78, 8.99, 9.18, 9.37, 9.58, 9.77, 9.96, 10.20,
    4.44, 4.63, 4.82, 5.03, 5.22, 5.41, 5.62, 5.81, 6.00, 6.21, 6.40, 6.59, 6.80, 6.99, 7.18, 7.39, 7.58, 7.77, 7.98, 8.17, 8.36, 8.57, 8.76, 8.95, 9.16, 9.35, 9.54, 9.75, 9.94, 10.18,
    4.47, 4.66, 4.87, 5.06, 5.25, 5.46, 5.65, 5.84, 6.05, 6.24, 6.43, 6.64, 6.83, 7.02, 7.23, 7.42, 7.61, 7.82, 8.01, 8.20, 8.41, 8.60, 8.79, 9.00, 9.19, 9.38, 9.59, 9.78, 9.97, 10.20,
    4.50, 4.69, 4.88, 5.09, 5.28, 5.47, 5.68, 5.87, 6.06, 6.27, 6.46, 6.65, 6.86, 7.05, 7.24, 7.45, 7.64, 7.83, 8.04, 8.23, 8.42, 8.63, 8.82, 9.01, 9.22, 9.41, 9.60, 9.81, 10.00, 10.18,
    4.54, 4.73, 4.94, 5.13, 5.32, 5.53, 5.72, 5.91, 6.12, 6.31, 6.50, 6.71, 6.90, 7.09, 7.30, 7.49, 7.68, 7.89, 8.08, 8.27, 8.48, 8.67, 8.86, 9.07, 9.26, 9.45, 9.66, 9.85, 10.04,
    4.60, 4.79, 5.00, 5.19, 5.38, 5.59, 5.78, 5.97, 6.18, 6.37, 6.56, 6.77, 6.96, 7.15, 7.36, 7.55, 7.74, 7.95, 8.14, 8.33, 8.54, 8.73, 8.92, 9.13, 9.32, 9.51, 9.72, 9.91, 10.12,
    4.68, 4.87, 5.08, 5.27, 5.46, 5.67, 5.86, 6.05, 6.26, 6.45, 6.64, 6.85, 7.04, 7.23, 7.44, 7.63, 7.82, 8.03, 8.22, 8.41, 8.62, 8.81, 9.00, 9.21, 9.40, 9.59, 9.80, 9.99,
    4.76, 4.95, 5.16, 5.35, 5.54, 5.75, 5.94, 6.13, 6.34, 6.53, 6.72, 6.93, 7.12, 7.31, 7.52, 7.71, 7.90, 8.11, 8.30, 8.49, 8.70, 8.89, 9.08, 9.29, 9.48, 9.67, 9.88, 10.07,
    4.94, 5.13, 5.34, 5.53, 5.72, 5.93, 6.12, 6.31, 6.52, 6.71, 6.90, 7.11, 7.30, 7.49, 7.70, 7.89, 8.08, 8.29, 8.48, 8.67, 8.88, 9.07, 9.26, 9.47, 9.66, 9.85, 10.03,
    5.22, 5.41, 5.62, 5.81, 6.00, 6.21, 6.40, 6.59, 6.80, 6.99, 7.18, 7.39, 7.58, 7.77, 7.98, 8.17, 8.36, 8.57, 8.76, 8.95, 9.16, 9.35, 9.54, 9.75, 9.94,
    5.56, 5.75, 5.96, 6.15, 6.34, 6.55, 6.74, 6.93, 7.14, 7.33, 7.52, 7.73, 7.92, 8.11, 8.32, 8.51, 8.70, 8.91, 9.10, 9.29, 9.50, 9.69, 9.88,
    5.90, 6.09, 6.30, 6.49, 6.68, 6.89, 7.08, 7.27, 7.48, 7.67, 7.86, 8.07, 8.26, 8.45, 8.66, 8.85, 9.04, 9.25, 9.44, 9.63, 9.82,
    6.24, 6.43, 6.64, 6.83, 7.02, 7.23, 7.42, 7.61, 7.82, 8.01, 8.20, 8.41, 8.60, 8.79, 9.00, 9.19, 9.38, 9.59, 9.74,
    6.65, 6.84, 7.05, 7.24, 7.43, 7.64, 7.83, 8.02, 8.23, 8.42, 8.61, 8.82, 9.01, 9.20, 9.41, 9.56,
    7.05, 7.24, 7.45, 7.64, 7.83, 8.04, 8.23, 8.42, 8.63, 8.82, 9.01, 9.22, 9.36,
    7.40, 7.59, 7.80, 7.99, 8.18, 8.39, 8.58, 8.77, 8.98, 9.12,
]
core2_y = [
    -0.58, -0.62, -0.57, -0.63, -0.60, -0.56, -0.61, -0.59, -0.64, -0.58, -0.62, -0.57, -0.60, -0.63,
    -0.78, -0.83, -0.77, -0.81, -0.84, -0.79, -0.82, -0.76, -0.80, -0.85, -0.78, -0.82, -0.79, -0.84, -0.77, -0.81, -0.83, -0.78, -0.80, -0.82, -0.79,
    -0.98, -1.03, -0.97, -1.01, -1.04, -0.99, -1.02, -0.96, -1.00, -1.05, -0.98, -1.02, -0.99, -1.04, -0.97, -1.01, -1.03, -0.98, -1.00, -1.02, -0.99, -1.04, -0.97, -1.01,
    -1.18, -1.23, -1.17, -1.21, -1.24, -1.19, -1.22, -1.16, -1.20, -1.25, -1.18, -1.22, -1.19, -1.24, -1.17, -1.21, -1.23, -1.18, -1.20, -1.22, -1.19, -1.24, -1.17, -1.21, -1.23, -1.18,
    -1.38, -1.43, -1.37, -1.41, -1.44, -1.39, -1.42, -1.36, -1.40, -1.45, -1.38, -1.42, -1.39, -1.44, -1.37, -1.41, -1.43, -1.38, -1.40, -1.42, -1.39, -1.44, -1.37, -1.41, -1.43, -1.38, -1.40, -1.42, -1.39,
    -1.58, -1.63, -1.57, -1.61, -1.64, -1.59, -1.62, -1.56, -1.60, -1.65, -1.58, -1.62, -1.59, -1.64, -1.57, -1.61, -1.63, -1.58, -1.60, -1.62, -1.59, -1.64, -1.57, -1.61, -1.63, -1.58, -1.60, -1.62, -1.59,
    -1.78, -1.83, -1.77, -1.81, -1.84, -1.79, -1.82, -1.76, -1.80, -1.85, -1.78, -1.82, -1.79, -1.84, -1.77, -1.81, -1.83, -1.78, -1.80, -1.82, -1.79, -1.84, -1.77, -1.81, -1.83, -1.78, -1.80, -1.82, -1.79, -1.83,
    -1.98, -2.03, -1.97, -2.01, -2.04, -1.99, -2.02, -1.96, -2.00, -2.05, -1.98, -2.02, -1.99, -2.04, -1.97, -2.01, -2.03, -1.98, -2.00, -2.02, -1.99, -2.04, -1.97, -2.01, -2.03, -1.98, -2.00, -2.02, -1.99, -2.03,
    -2.18, -2.23, -2.17, -2.21, -2.24, -2.19, -2.22, -2.16, -2.20, -2.25, -2.18, -2.22, -2.19, -2.24, -2.17, -2.21, -2.23, -2.18, -2.20, -2.22, -2.19, -2.24, -2.17, -2.21, -2.23, -2.18, -2.20, -2.22, -2.19, -2.23,
    -2.38, -2.43, -2.37, -2.41, -2.44, -2.39, -2.42, -2.36, -2.40, -2.45, -2.38, -2.42, -2.39, -2.44, -2.37, -2.41, -2.43, -2.38, -2.40, -2.42, -2.39, -2.44, -2.37, -2.41, -2.43, -2.38, -2.40, -2.42, -2.39, -2.43,
    -2.58, -2.63, -2.57, -2.61, -2.64, -2.59, -2.62, -2.56, -2.60, -2.65, -2.58, -2.62, -2.59, -2.64, -2.57, -2.61, -2.63, -2.58, -2.60, -2.62, -2.59, -2.64, -2.57, -2.61, -2.63, -2.58, -2.60, -2.62, -2.59, -2.63,
    -2.78, -2.83, -2.77, -2.81, -2.84, -2.79, -2.82, -2.76, -2.80, -2.85, -2.78, -2.82, -2.79, -2.84, -2.77, -2.81, -2.83, -2.78, -2.80, -2.82, -2.79, -2.84, -2.77, -2.81, -2.83, -2.78, -2.80, -2.82, -2.79, -2.83,
    -2.98, -3.03, -2.97, -3.01, -3.04, -2.99, -3.02, -2.96, -3.00, -3.05, -2.98, -3.02, -2.99, -3.04, -2.97, -3.01, -3.03, -2.98, -3.00, -3.02, -2.99, -3.04, -2.97, -3.01, -3.03, -2.98, -3.00, -3.02, -2.99, -3.03,
    -3.18, -3.23, -3.17, -3.21, -3.24, -3.19, -3.22, -3.16, -3.20, -3.25, -3.18, -3.22, -3.19, -3.24, -3.17, -3.21, -3.23, -3.18, -3.20, -3.22, -3.19, -3.24, -3.17, -3.21, -3.23, -3.18, -3.20, -3.22, -3.19, -3.23,
    -3.38, -3.43, -3.37, -3.41, -3.44, -3.39, -3.42, -3.36, -3.40, -3.45, -3.38, -3.42, -3.39, -3.44, -3.37, -3.41, -3.43, -3.38, -3.40, -3.42, -3.39, -3.44, -3.37, -3.41, -3.43, -3.38, -3.40, -3.42, -3.39, -3.43,
    -3.58, -3.63, -3.57, -3.61, -3.64, -3.59, -3.62, -3.56, -3.60, -3.65, -3.58, -3.62, -3.59, -3.64, -3.57, -3.61, -3.63, -3.58, -3.60, -3.62, -3.59, -3.64, -3.57, -3.61, -3.63, -3.58, -3.60, -3.62, -3.59, -3.63,
    -3.78, -3.83, -3.77, -3.81, -3.84, -3.79, -3.82, -3.76, -3.80, -3.85, -3.78, -3.82, -3.79, -3.84, -3.77, -3.81, -3.83, -3.78, -3.80, -3.82, -3.79, -3.84, -3.77, -3.81, -3.83, -3.78, -3.80, -3.82, -3.79, -3.83,
    -3.98, -4.03, -3.97, -4.01, -4.04, -3.99, -4.02, -3.96, -4.00, -4.05, -3.98, -4.02, -3.99, -4.04, -3.97, -4.01, -4.03, -3.98, -4.00, -4.02, -3.99, -4.04, -3.97, -4.01, -4.03, -3.98, -4.00, -4.02, -3.99,
    -4.18, -4.23, -4.17, -4.21, -4.24, -4.19, -4.22, -4.16, -4.20, -4.25, -4.18, -4.22, -4.19, -4.24, -4.17, -4.21, -4.23, -4.18, -4.20, -4.22, -4.19, -4.24, -4.17, -4.21, -4.23, -4.18, -4.20, -4.22, -4.19,
    -4.38, -4.43, -4.37, -4.41, -4.44, -4.39, -4.42, -4.36, -4.40, -4.45, -4.38, -4.42, -4.39, -4.44, -4.37, -4.41, -4.43, -4.38, -4.40, -4.42, -4.39, -4.44, -4.37, -4.41, -4.43, -4.38, -4.40, -4.42,
    -4.58, -4.63, -4.57, -4.61, -4.64, -4.59, -4.62, -4.56, -4.60, -4.65, -4.58, -4.62, -4.59, -4.64, -4.57, -4.61, -4.63, -4.58, -4.60, -4.62, -4.59, -4.64, -4.57, -4.61, -4.63, -4.58, -4.60, -4.62,
    -4.78, -4.83, -4.77, -4.81, -4.84, -4.79, -4.82, -4.76, -4.80, -4.85, -4.78, -4.82, -4.79, -4.84, -4.77, -4.81, -4.83, -4.78, -4.80, -4.82, -4.79, -4.84, -4.77, -4.81, -4.83, -4.78, -4.80,
    -4.98, -5.03, -4.97, -5.01, -5.04, -4.99, -5.02, -4.96, -5.00, -5.05, -4.98, -5.02, -4.99, -5.04, -4.97, -5.01, -5.03, -4.98, -5.00, -5.02, -4.99, -5.04, -4.97, -5.01, -5.03,
    -5.18, -5.23, -5.17, -5.21, -5.24, -5.19, -5.22, -5.16, -5.20, -5.25, -5.18, -5.22, -5.19, -5.24, -5.17, -5.21, -5.23, -5.18, -5.20, -5.22, -5.19, -5.24, -5.17,
    -5.38, -5.43, -5.37, -5.41, -5.44, -5.39, -5.42, -5.36, -5.40, -5.45, -5.38, -5.42, -5.39, -5.44, -5.37, -5.41, -5.43, -5.38, -5.40, -5.42, -5.39,
    -5.58, -5.63, -5.57, -5.61, -5.64, -5.59, -5.62, -5.56, -5.60, -5.65, -5.58, -5.62, -5.59, -5.64, -5.57, -5.61, -5.63, -5.58, -5.60,
    -5.78, -5.83, -5.77, -5.81, -5.84, -5.79, -5.82, -5.76, -5.80, -5.85, -5.78, -5.82, -5.79, -5.84, -5.77, -5.81,
    -5.98, -6.03, -5.97, -6.01, -6.04, -5.99, -6.02, -5.96, -6.00, -6.05, -5.98, -6.02, -5.99,
    -6.18, -6.23, -6.17, -6.21, -6.24, -6.19, -6.22, -6.16, -6.20, -6.25,
]

# ---- figure ----
W, H = 603, 597
fig = plt.figure(figsize=(W / 100, H / 100), dpi=100)
# plot box in pixels: left 91.7, right ~612 (runs off the image), top 78.3, bottom 514.3
ax = fig.add_axes([91.7 / W, (H - 514.3) / H, (612 - 91.7) / W, (514.3 - 78.3) / H])

pts = np.array(sparse_pts + halo_pts + rim_pts)
all_x = np.concatenate([pts[:, 0], core_x, core2_x])
all_y = np.concatenate([pts[:, 1], core_y, core2_y])

ax.scatter(all_x, all_y, s=18, facecolors='none', edgecolors='black',
           linewidths=1.0, zorder=2)

ax.axline((0, fit_intercept), slope=fit_slope, color='#ff0000', lw=5.4, zorder=3)

ax.set_xlim(0.136, 15.22)
ax.set_ylim(-17.54, 5.39)

ax.set_xticks(x_ticks)
ax.set_yticks(y_ticks)
ax.set_xticklabels([str(t) for t in x_ticks])
ax.set_yticklabels([str(t).replace('-', '\u2212') for t in y_ticks],
                   rotation=90, va='center')
ax.tick_params(direction='out', length=10.4, width=0.75, labelsize=14, colors='black')
ax.tick_params(axis='x', pad=7.5)
ax.tick_params(axis='y', pad=11)
for sp in ax.spines.values():
    sp.set_linewidth(0.9)
    sp.set_color('black')

fig.text(305 / W, 1 - 36 / H, title, ha='center', va='baseline',
         fontsize=22, fontweight='bold')
fig.text(351 / W, 1 - 583.3 / H, x_label, ha='center', va='baseline', fontsize=24.5)
fig.text(44 / W, 1 - 291.5 / H, y_label, ha='right', va='center',
         rotation=90, fontsize=24.5)

fig.savefig('out.png', dpi=100)
